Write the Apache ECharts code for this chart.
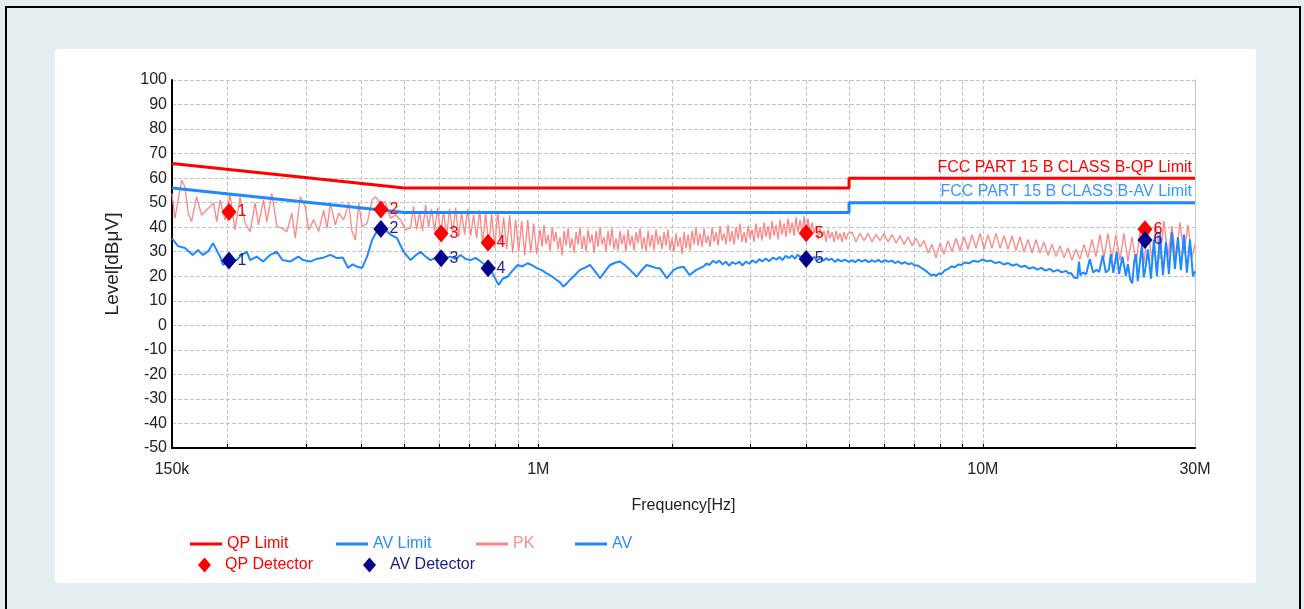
<!DOCTYPE html>
<html>
<head>
<meta charset="utf-8">
<script src="https://cdn.jsdelivr.net/npm/echarts@6/dist/echarts.min.js"></script>
<style>
	html, body { margin: 0; padding: 0; width: 1304px; height: 609px; overflow: hidden; background: #e4edf0; }
	#frame { position: absolute; left: 5px; top: 6px; width: 1296px; height: 640px; border: 2px solid #000; box-sizing: border-box; }
	#main { position: absolute; left: 55px; top: 49px; width: 1201px; height: 534px; background: #fff; }
</style>
</head>
<body>
<div id="frame"></div>
<div id="main"></div>
<script>
// 限值线 (MHz, dBμV)
var qpLimit = [[0.15, 66], [0.5, 56], [5, 56], [5, 60], [30, 60]];
var avLimit = [[0.15, 56], [0.5, 46], [5, 46], [5, 50], [30, 50]];

// PK 扫描曲线
var pkTrace = [
	[0.150, 53.8], [0.1523, 43.6], [0.1577, 59.2], [0.1604, 56.5], [0.1632, 45.7], [0.1660, 42.3], [0.1703, 52.4],
	[0.1748, 45], [0.1794, 47], [0.1861, 49.8], [0.1891, 42.3], [0.1924, 51.1], [0.1974, 43], [0.2026, 53.2],
	[0.2079, 38.9], [0.2134, 52.4], [0.2190, 41.6], [0.2248, 38.2], [0.2307, 49.8], [0.2348, 40.9], [0.2409, 51.1],
	[0.2451, 42.3], [0.2516, 53.8], [0.2582, 40.2], [0.2650, 39.6], [0.2720, 38.2], [0.2791, 45.7], [0.2840, 35.5],
	[0.2915, 52.4], [0.2991, 48.4], [0.3043, 38.9], [0.3124, 43], [0.3206, 38.2], [0.3290, 47], [0.3348, 39.6],
	[0.3406, 49.8], [0.3496, 40.9], [0.3557, 45.7], [0.3650, 43], [0.3746, 49.8], [0.3811, 38.2], [0.3878, 34.8],
	[0.3946, 49.8], [0.4015, 40.2], [0.4120, 41.6], [0.4228, 51.1], [0.4303, 52.4], [0.4416, 49.8], [0.4532, 50.4],
	[0.4651, 43.6], [0.4773, 45], [0.4899, 43], [0.5028, 38.9], [0.5160, 39.6],
	[0.5241, 48.5], [0.5323, 39], [0.5407, 46], [0.5491, 38.5], [0.5578, 49], [0.5665, 40], [0.5754, 47.5],
	[0.5844, 38.5], [0.5936, 48], [0.6029, 37], [0.6123, 46.5], [0.6219, 36.5], [0.6317, 47.5], [0.6416, 37.5],
	[0.6517, 48], [0.6619, 36], [0.6722, 46], [0.6828, 37], [0.6935, 47.5], [0.7044, 36.5], [0.7154, 45],
	[0.7266, 35.5], [0.7380, 47], [0.7496, 33], [0.7614, 46], [0.7733, 32], [0.7854, 45.5], [0.7977, 31.5],
	[0.8102, 46.5], [0.8230, 33], [0.8358, 44], [0.8489, 31], [0.8622, 45], [0.8757, 29.5], [0.8896, 43],
	[0.9035, 30], [0.9177, 42.5], [0.9321, 28.5], [0.9467, 43], [0.9616, 29.5], [0.9766, 41.5], [0.9920, 29],
	[1.009, 39], [1.0195, 32], [1.030, 41], [1.041, 33], [1.052, 37], [1.063, 30], [1.074, 40], [1.085, 34],
	[1.096, 38], [1.108, 31], [1.119, 36], [1.131, 28.5], [1.143, 38.5], [1.155, 32.5], [1.167, 39.5], [1.179, 31.5],
	[1.191, 35.5], [1.204, 29.5], [1.216, 38], [1.229, 33], [1.241, 40], [1.254, 31], [1.267, 36.5], [1.281, 30],
	[1.294, 39], [1.307, 33.5], [1.321, 37], [1.335, 29.5], [1.349, 38.5], [1.363, 32], [1.377, 40], [1.391, 33],
	[1.406, 36], [1.420, 30], [1.435, 38.5], [1.450, 32.5], [1.465, 39.5], [1.480, 31], [1.496, 35.5], [1.511, 30.5],
	[1.527, 38.5], [1.543, 33], [1.559, 37], [1.575, 30], [1.592, 39], [1.608, 32.5], [1.625, 36.5], [1.642, 30.5],
	[1.659, 38], [1.676, 33.5], [1.694, 39.5], [1.711, 31], [1.729, 36], [1.747, 30], [1.766, 38.5], [1.784, 32],
	[1.803, 37], [1.821, 30.5], [1.840, 39], [1.860, 33], [1.879, 36.5], [1.898, 31], [1.918, 38], [1.938, 32.5],
	[1.958, 39], [1.979, 30.5], [1.999, 35.5], [2.020, 30], [2.041, 37.5], [2.062, 32], [2.084, 36], [2.106, 29],
	[2.128, 38], [2.150, 31.5], [2.172, 37], [2.195, 30.5], [2.218, 38.5], [2.241, 33], [2.264, 40], [2.288, 32.5],
	[2.311, 37.5], [2.336, 32], [2.360, 39.5], [2.385, 33.5], [2.409, 36.5], [2.435, 32], [2.460, 40], [2.486, 34],
	[2.511, 38], [2.538, 32.5], [2.564, 40.5], [2.591, 34.5], [2.617, 37.5], [2.645, 33], [2.672, 41], [2.700, 34],
	[2.728, 38.5], [2.756, 33], [2.785, 40], [2.814, 35], [2.843, 41.5], [2.873, 34], [2.903, 38], [2.933, 33.5],
	[2.964, 40.5], [2.995, 35.5], [3.026, 39], [3.057, 34], [3.089, 41.5], [3.121, 35.5], [3.154, 40], [3.187, 34.5],
	[3.220, 42], [3.253, 36], [3.287, 40.5], [3.322, 35], [3.356, 42.5], [3.391, 36.5], [3.426, 41], [3.462, 35],
	[3.498, 43], [3.534, 37], [3.571, 41.5], [3.608, 36], [3.646, 43.5], [3.684, 37.5], [3.722, 42], [3.761, 36.5],
	[3.800, 44], [3.840, 38], [3.880, 43], [3.920, 37], [3.961, 44.5], [4.002, 38.5], [4.044, 43.5], [4.086, 36.5],
	[4.128, 42], [4.171, 37.5], [4.215, 40.5], [4.259, 35], [4.303, 39.5], [4.348, 36], [4.393, 38.5], [4.439, 34],
	[4.485, 39], [4.531, 35.5], [4.579, 38], [4.626, 34], [4.675, 38.5], [4.723, 35], [4.772, 37.5], [4.822, 34],
	[4.872, 38], [4.923, 35], [4.974, 37.5],
	[5.078, 38], [5.184, 34], [5.293, 37.5], [5.404, 34.5], [5.517, 37.5], [5.632, 34],
	[5.750, 37], [5.870, 34.5], [5.993, 37.5], [6.119, 34], [6.247, 37], [6.377, 33.5], [6.511, 36.5],
	[6.647, 33], [6.786, 36], [6.928, 32.5], [7.073, 35.5], [7.221, 32], [7.372, 34.5], [7.527, 29.5],
	[7.684, 33], [7.845, 27.5], [8.009, 33.5], [8.177, 29], [8.348, 34.5], [8.523, 30], [8.701, 35.5],
	[8.883, 30.5], [9.069, 36], [9.259, 31], [9.453, 37], [9.651, 31.5], [9.853, 37.5], [10.06, 31],
	[10.27, 37], [10.48, 31.5], [10.70, 37.5], [10.93, 31.5], [11.16, 36.5], [11.39, 31], [11.63, 36.5],
	[11.87, 30.5], [12.12, 36], [12.37, 30], [12.63, 35], [12.90, 29.5], [13.17, 35], [13.44, 29.5],
	[13.72, 34], [14.01, 28.5], [14.30, 33], [14.60, 28], [14.91, 32.5], [15.22, 27.5], [15.54, 31.5],
	[15.86, 26.5], [16.19, 31], [16.53, 27], [16.88, 33], [17.23, 27.5], [17.59, 35], [17.96, 28],
	[18.34, 37], [18.72, 27.5], [19.11, 37.5], [19.51, 27], [19.92, 37], [20.34, 26.5], [20.76, 37.5],
	[21.20, 26], [21.64, 36], [22.10, 25.5], [22.56, 38], [23.03, 25], [23.51, 40], [24.00, 26],
	[24.51, 41.5], [25.02, 27], [25.54, 42.5], [26.08, 28], [26.62, 40.5], [27.18, 27], [27.75, 42],
	[28.33, 29], [28.92, 41], [29.53, 27.5], [30.0, 33]
];

// AV 扫描曲线
var avTrace = [
	[0.150, 35.5], [0.1547, 32.3], [0.1604, 31.5], [0.1670, 28.7], [0.1716, 30.7], [0.1761, 28.7], [0.1810, 30.2],
	[0.1855, 33.5], [0.1924, 28], [0.1954, 24.6], [0.2015, 26.2], [0.2097, 26.6], [0.2150, 28.7], [0.2209, 30],
	[0.2248, 26.6], [0.2326, 28], [0.2405, 26], [0.2494, 28.7], [0.2582, 30], [0.2658, 26.6], [0.2767, 26],
	[0.2885, 28], [0.2960, 26.6], [0.3070, 26], [0.3162, 27], [0.3264, 27.4], [0.3406, 28.7], [0.3527, 27.4],
	[0.3635, 27.6], [0.3730, 23.4], [0.3820, 24.8], [0.3912, 23.9], [0.4015, 23.4], [0.4120, 28], [0.4228, 34.8],
	[0.4369, 39.5], [0.4484, 39.6], [0.4651, 37], [0.4812, 35.5], [0.4977, 30], [0.5160, 26.6], [0.5296, 28.5],
	[0.5435, 30], [0.5578, 28], [0.5724, 26.6], [0.5875, 27.5], [0.6029, 28.7], [0.6188, 27.5], [0.6350, 28],
	[0.6517, 27], [0.6688, 28.7], [0.6864, 27], [0.7044, 26.6], [0.7229, 27.5], [0.7419, 26], [0.7614, 24.5],
	[0.7814, 22.6], [0.7977, 19.5], [0.8143, 16.5], [0.8316, 19], [0.8526, 19.8], [0.872, 22], [0.898, 24.6],
	[0.921, 24], [0.946, 25.3], [0.969, 24.5], [0.992, 23.3], [1.018, 22.5], [1.044, 21.2], [1.072, 20],
	[1.100, 18.5], [1.119, 17.5], [1.138, 15.8], [1.158, 17], [1.178, 18.5], [1.209, 20.5], [1.241, 22.6],
	[1.274, 23.5], [1.307, 24.6], [1.342, 22], [1.377, 19.2], [1.413, 22], [1.450, 24.6], [1.488, 25.5],
	[1.527, 26], [1.567, 24.5], [1.608, 22.6], [1.665, 19.8], [1.708, 22.5], [1.752, 24.6], [1.798, 24],
	[1.845, 23.3], [1.876, 23.3], [1.946, 19.2], [2.017, 22.6], [2.066, 23.5], [2.121, 23.9], [2.190, 20.5],
	[2.262, 22.5], [2.350, 23.9], [2.390, 25.2], [2.427, 24.6], [2.470, 26.3], [2.515, 25.4], [2.555, 26.4],
	[2.595, 24.8], [2.640, 25.9], [2.691, 24.3], [2.730, 25.8], [2.776, 25], [2.830, 25.9], [2.880, 24.4],
	[2.930, 26], [2.983, 25.1], [3.030, 26.5], [3.089, 25.5], [3.140, 27], [3.191, 26], [3.250, 27.2],
	[3.306, 26.1], [3.370, 27.6], [3.434, 26.8], [3.490, 27.9], [3.542, 26.6], [3.600, 28.3], [3.665, 27.4],
	[3.720, 28.5], [3.780, 27.1], [3.830, 28.8], [3.888, 27.8], [3.950, 28.6], [4.005, 27.3], [4.060, 28.1],
	[4.120, 27.1], [4.180, 27.9], [4.230, 26.5], [4.300, 27.4], [4.379, 26.3], [4.440, 27.4], [4.503, 26.6],
	[4.570, 27.2], [4.650, 25.8], [4.720, 26.9], [4.800, 26.1], [4.890, 26.8], [4.992, 25.9], [5.080, 26.6],
	[5.160, 25.7], [5.250, 26.8], [5.340, 26], [5.440, 26.7], [5.533, 25.7], [5.620, 26.6], [5.720, 25.9],
	[5.820, 26.7], [5.915, 25.7], [6.020, 26.6], [6.133, 25.9], [6.240, 26.4], [6.340, 25.4], [6.450, 26.1],
	[6.560, 25.1], [6.680, 25.8], [6.799, 24.9], [6.910, 25.3], [7.030, 24.4], [7.150, 24.4], [7.270, 23.4],
	[7.430, 22.3], [7.550, 21.2], [7.660, 20.3], [7.750, 20.8], [7.850, 20.2], [7.960, 21.1], [8.080, 21],
	[8.210, 22.4], [8.354, 23], [8.500, 24.1], [8.650, 23.7], [8.796, 24.8], [8.950, 24.6], [9.100, 25.6],
	[9.300, 25.3], [9.510, 26.3], [9.750, 25.9], [10.00, 26.9], [10.20, 26.1], [10.43, 26.4], [10.65, 25.4],
	[10.92, 25.8], [11.15, 24.8], [11.39, 25.4], [11.65, 24.3], [11.91, 24.9], [12.18, 23.8], [12.45, 24.3],
	[12.70, 23.1], [12.97, 23.7], [13.25, 22.7], [13.53, 23.4], [13.82, 22.3], [14.12, 23], [14.42, 21.9],
	[14.72, 22.6], [15.05, 21.6], [15.39, 22.2], [15.60, 21.1], [15.79, 21.3], [16.05, 19.4], [16.31, 19.3],
	[16.45, 26], [16.57, 20.4], [16.80, 21.6], [17.07, 20.8], [17.40, 27], [17.70, 21.5], [18.00, 22.6],
	[18.27, 21.8], [18.60, 28.5], [18.90, 21.5], [19.20, 22.7], [19.40, 29], [19.65, 21.4], [20.00, 30],
	[20.25, 21], [20.60, 28], [20.97, 20.2], [21.20, 25], [21.44, 18.8], [21.67, 17.1], [21.90, 26],
	[22.10, 29], [22.30, 18], [22.79, 33], [23.00, 19.5], [23.20, 23], [23.51, 31], [23.88, 19],
	[24.25, 35], [24.63, 20], [25.02, 37], [25.41, 20.5], [25.81, 34], [26.21, 21], [26.62, 38],
	[27.04, 23], [27.46, 36], [27.89, 22.5], [28.33, 37], [28.77, 21.5], [29.23, 35], [29.68, 20], [30.0, 22]
];

// 检波点
var qpPeaks = [[0.2015, 46.2], [0.4425, 47.2], [0.6045, 37.4], [0.771, 33.7], [4.005, 37.5], [23.15, 39.2]];
var avPeaks = [[0.2015, 26.4], [0.4425, 39.3], [0.6045, 27.3], [0.771, 23.3], [4.005, 27.0], [23.15, 34.8]];
var peakNums = ['1', '2', '3', '4', '5', '6'];

// 坐标刻度
var xTicks = [0.2, 0.3, 0.4, 0.5, 0.6, 0.7, 0.8, 0.9, 1, 2, 3, 4, 5, 6, 7, 8, 9, 10, 20];
var xLabels = [0.15, 1, 10, 30];

var fontFam = "'Liberation Sans', Arial, sans-serif";
var txt = '#222';

var chart = echarts.init(document.getElementById('main'));

function makeLegend(name, left, top, color, isDiamond) {
	return {
		left: left - 55,
		top: top - 49,
		padding: 0,
		selectedMode: false,
		itemWidth: isDiamond ? 13 : 32,
		itemHeight: isDiamond ? 15 : 3,
		icon: isDiamond ? 'diamond' : 'rect',
		textStyle: { fontFamily: fontFam, fontSize: 16, color: color, padding: isDiamond ? [0, 0, 0, 9] : 0 },
		data: [name]
	};
}

var option = {
	animation: false,
	grid: { left: 117, top: 31, width: 1023, height: 368 },
	xAxis: {
		type: 'log',
		min: 0.15,
		max: 30,
		axisLine: { onZero: false, lineStyle: { color: '#000', width: 2 } },
		axisTick: { show: true, inside: true, length: 4, customValues: xTicks, lineStyle: { color: '#000' } },
		axisLabel: {
			customValues: xLabels,
			margin: 14,
			fontFamily: fontFam,
			fontSize: 16,
			color: txt,
			formatter: function (v) { return v >= 1 ? Math.round(v) + 'M' : Math.round(v * 1000) + 'k'; }
		},
		splitLine: { show: true, lineStyle: { color: '#c4c4c4', type: [4, 2] } },
		name: 'Frequency[Hz]',
		nameLocation: 'middle',
		nameGap: 50,
		nameTextStyle: { fontFamily: fontFam, fontSize: 16, color: txt }
	},
	yAxis: [{
		type: 'value',
		min: -50,
		max: 100,
		interval: 10,
		axisLine: { show: true, lineStyle: { color: '#000', width: 2 } },
		axisTick: { show: false },
		axisLabel: { margin: 5, fontFamily: fontFam, fontSize: 16, color: txt },
		splitLine: { show: true, lineStyle: { color: '#c4c4c4', type: [4, 2] } },
		name: 'Level[dBμV]',
		nameLocation: 'middle',
		nameGap: 50,
		nameTextStyle: { fontFamily: fontFam, fontSize: 19, color: txt }
	}, {
		type: 'value',
		position: 'right',
		min: -50,
		max: 100,
		axisLine: { show: true, lineStyle: { color: '#c8c8c8', width: 1 } },
		axisTick: { show: false },
		axisLabel: { show: false },
		splitLine: { show: false }
	}],
	legend: [
		makeLegend('QP Limit', 190, 536, '#ff0000', false),
		makeLegend('AV Limit', 336, 536, '#2a8cff', false),
		makeLegend('PK', 476, 536, '#ff8a8a', false),
		makeLegend('AV', 575, 536, '#2a8cff', false),
		makeLegend('QP Detector', 198, 557, '#ff0000', true),
		makeLegend('AV Detector', 363, 557, '#1a1a8c', true)
	],
	series: [
		{
			name: 'PK', type: 'line', data: pkTrace, symbol: 'none', z: 2,
			color: '#ff8585', lineStyle: { width: 1.3 }
		},
		{
			name: 'AV', type: 'line', data: avTrace, symbol: 'none', z: 3,
			color: '#1e88ff', lineStyle: { width: 2 }
		},
		{
			name: 'QP Limit', type: 'line', data: qpLimit, symbol: 'none', z: 4,
			color: '#ff0000', lineStyle: { width: 3 },
			markPoint: {
				symbolSize: 0,
				data: [{ coord: [30, 60] }],
				label: { show: true, position: 'left', distance: 3, offset: [0, -11], formatter: 'FCC PART 15 B CLASS B-QP Limit',
					fontFamily: fontFam, fontSize: 16, color: '#ff0000' }
			}
		},
		{
			name: 'AV Limit', type: 'line', data: avLimit, symbol: 'none', z: 4,
			color: '#1e88ff', lineStyle: { width: 3 },
			markPoint: {
				symbolSize: 0,
				data: [{ coord: [30, 50] }],
				label: { show: true, position: 'left', distance: 3, offset: [0, -11], formatter: 'FCC PART 15 B CLASS B-AV Limit',
					fontFamily: fontFam, fontSize: 16, color: '#3399ff' }
			}
		},
		{
			name: 'QP Detector', type: 'scatter', data: qpPeaks, symbol: 'diamond', symbolSize: [15, 18], z: 5,
			color: '#ff0000', itemStyle: { opacity: 1 },
			label: { show: true, position: 'right', distance: 1, fontFamily: fontFam, fontSize: 16, color: '#ff0000',
				formatter: function (p) { return peakNums[p.dataIndex]; } }
		},
		{
			name: 'AV Detector', type: 'scatter', data: avPeaks, symbol: 'diamond', symbolSize: [15, 18], z: 6,
			color: '#00008b', itemStyle: { opacity: 1 },
			label: { show: true, position: 'right', distance: 1, fontFamily: fontFam, fontSize: 16, color: '#2a1d8f',
				formatter: function (p) { return peakNums[p.dataIndex]; } }
		}
	]
};
chart.setOption(option);
</script>
</body>
</html>
